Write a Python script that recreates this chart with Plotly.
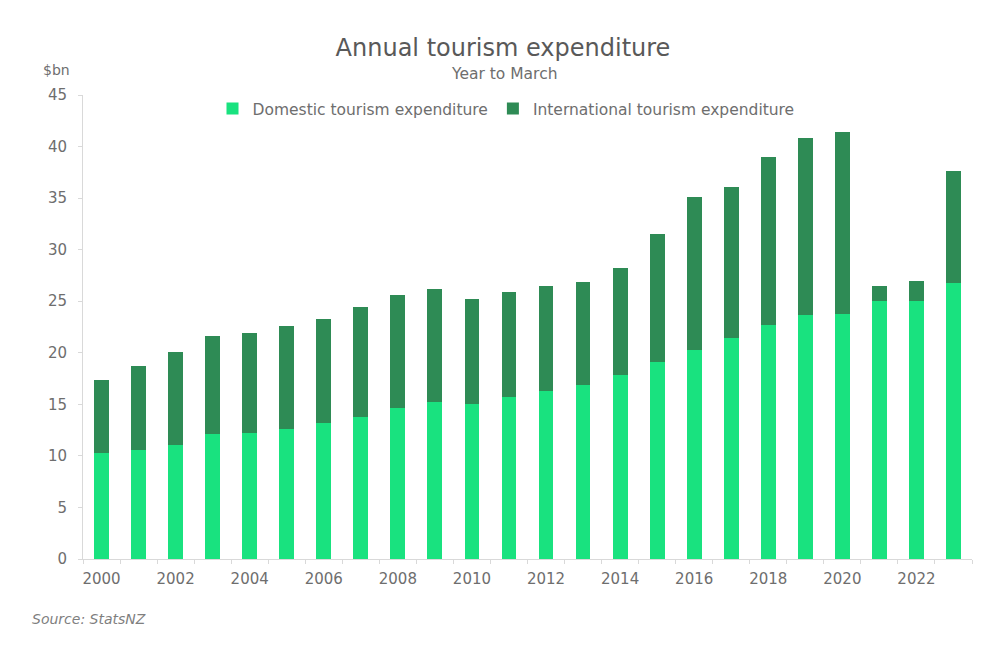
import plotly.graph_objects as go

years = list(range(2000, 2024))
domestic = [10.3, 10.6, 11.1, 12.1, 12.25, 12.6, 13.2, 13.8, 14.6, 15.25, 15.0, 15.7,
            16.3, 16.9, 17.8, 19.1, 20.3, 21.4, 22.7, 23.7, 23.8, 25.0, 25.0, 26.8]
total = [17.4, 18.75, 20.1, 21.6, 21.9, 22.6, 23.3, 24.4, 25.6, 26.15, 25.25, 25.85,
         26.45, 26.85, 28.2, 31.5, 35.1, 36.1, 39.0, 40.85, 41.45, 26.45, 26.95, 37.6]
international = [round(t - d, 2) for t, d in zip(total, domestic)]
x_tick_labels = [str(y) for y in range(2000, 2024, 2)]

FONT = "DejaVu Sans"
GRAY = "#595959"
LIGHT = "#6E6E6E"

# page body has an 8px default margin; work in page pixels and shift
OFF = 8
W, H = 1000 - OFF, 664 - OFF
plot_l, plot_r, plot_t, plot_b = 83 - OFF, 972 - OFF, 95 - OFF, 559 - OFF


def to_paper(px, py):
    lx, ly = px - OFF, py - OFF
    return (lx - plot_l) / (plot_r - plot_l), (plot_b - ly) / (plot_b - plot_t)


fig = go.Figure()
fig.add_trace(go.Bar(x=years, y=domestic, name="Domestic tourism expenditure",
                     marker=dict(color="#19E27F", line=dict(width=0))))
fig.add_trace(go.Bar(x=years, y=international, name="International tourism expenditure",
                     marker=dict(color="#2E8B55", line=dict(width=0))))

sub_x, sub_y = to_paper(504, 74)
bn_x, bn_y = to_paper(56, 70)
src_x, src_y = to_paper(30, 619)
leg_x, leg_y = to_paper(506, 109)

fig.update_layout(
    barmode="stack",
    bargap=0.6,
    width=W, height=H,
    margin=dict(l=plot_l, r=W - plot_r, t=plot_t, b=H - plot_b),
    paper_bgcolor="white", plot_bgcolor="white",
    font=dict(family=FONT, color=LIGHT, size=14),
    title=dict(text="Annual tourism expenditure", x=(503 - OFF) / W, xanchor="center",
               y=1 - (48 - OFF) / H, yanchor="middle", xref="container", yref="container",
               font=dict(size=24, color=GRAY, family=FONT)),
    legend=dict(orientation="h", x=leg_x, xanchor="center", y=leg_y, yanchor="middle",
                font=dict(size=15.5, color=LIGHT), itemwidth=30, bgcolor="rgba(0,0,0,0)",
                traceorder="normal"),
    xaxis=dict(range=[1999.5, 2023.5], tickmode="array",
               tickvals=list(range(2000, 2024, 2)), ticktext=x_tick_labels,
               showline=True, linecolor="#D9D9D9", linewidth=1, ticks="",
               ticklabelstandoff=6,
               showgrid=False, zeroline=False,
               tickfont=dict(size=15, color=LIGHT),
               minor=dict(tickmode="linear", tick0=1999.5, dtick=1, ticks="outside",
                          ticklen=4, tickcolor="#D9D9D9", showgrid=False)),
    yaxis=dict(range=[0, 45], dtick=5, showline=True, linecolor="#D9D9D9", linewidth=1,
               ticks="outside", ticklen=4, tickcolor="#D9D9D9", showgrid=False,
               ticklabelstandoff=8,
               zeroline=False, tickfont=dict(size=15, color=LIGHT)),
    annotations=[
        dict(text="Year to March", x=sub_x, y=sub_y, xref="paper", yref="paper",
             xanchor="center", yanchor="middle",
             showarrow=False, font=dict(size=15.5, color=LIGHT)),
        dict(text="$bn", x=bn_x, y=bn_y, xref="paper", yref="paper",
             xanchor="center", yanchor="middle",
             showarrow=False, font=dict(size=14, color=LIGHT)),
        dict(text="<i>Source: StatsNZ</i>", x=src_x, y=src_y, xref="paper",
             yref="paper", xanchor="left", yanchor="middle", showarrow=False,
             font=dict(size=14, color="#7F7F7F")),
    ],
)

fig.write_html("out.html")
